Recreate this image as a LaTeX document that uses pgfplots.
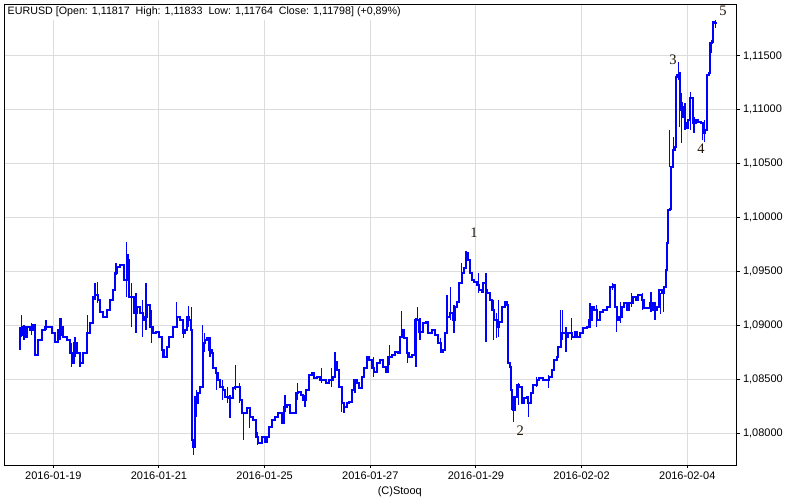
\documentclass[border=0pt]{standalone}
\usepackage{pgfplots}
\pgfplotsset{compat=1.18}
\usepackage{pgfplotstable}
\usepackage{fontspec}
\setmainfont{Liberation Sans}
\newfontfamily\numfont{Liberation Serif}

\definecolor{gridgray}{HTML}{DCDCDC}
\definecolor{barblue}{HTML}{0000FF}
\definecolor{wavelbl}{HTML}{1E1408}

% EURUSD hourly, x = trading days from 2016-01-19
\pgfplotstableread{
x y
-0.644 1.08910
-0.598 1.08984
-0.536 1.08891
-0.504 1.08984
-0.441 1.08956
-0.379 1.09003
-0.346 1.08724
-0.314 1.08724
-0.284 1.08863
-0.220 1.08956
-0.157 1.08984
-0.095 1.08984
-0.030 1.08928
0.032 1.08845
0.095 1.08956
0.159 1.08984
0.189 1.08891
0.254 1.08863
0.316 1.08743
0.348 1.08650
0.392 1.08835
0.443 1.08743
0.505 1.08650
0.568 1.08743
0.632 1.08928
0.695 1.09021
0.746 1.09262
0.789 1.09281
0.852 1.09235
0.884 1.09123
0.946 1.09077
1.011 1.09142
1.073 1.09235
1.124 1.09327
1.168 1.09485
1.211 1.09541
1.263 1.09560
1.338 1.09420
1.389 1.09652
1.420 1.09606
1.439 1.09262
1.484 1.09262
1.528 1.09114
1.579 1.09170
1.641 1.09114
1.692 1.09049
1.736 1.09077
1.779 1.09188
1.830 1.08984
1.882 1.08928
1.944 1.08938
2.007 1.08891
2.052 1.08770
2.095 1.08706
2.147 1.08798
2.196 1.08891
2.271 1.08984
2.336 1.09077
2.398 1.09049
2.449 1.08928
2.493 1.08956
2.536 1.09077
2.574 1.09049
2.601 1.08956
2.620 1.07935
2.650 1.07870
2.682 1.08334
2.714 1.08279
2.745 1.08371
2.777 1.08427
2.809 1.08427
2.828 1.08835
2.871 1.08863
2.915 1.08882
2.953 1.08770
2.998 1.08743
3.029 1.08603
3.080 1.08557
3.123 1.08492
3.155 1.08427
3.207 1.08399
3.250 1.08334
3.313 1.08325
3.396 1.08418
3.445 1.08427
3.502 1.08427
3.534 1.08306
3.566 1.08186
3.629 1.08186
3.672 1.08232
3.723 1.08149
3.786 1.08121
3.837 1.07963
3.880 1.07907
3.945 1.07963
4.007 1.07916
4.051 1.07963
4.089 1.08056
4.134 1.08121
4.197 1.08149
4.259 1.08186
4.323 1.08093
4.367 1.08241
4.418 1.08260
4.481 1.08186
4.556 1.08186
4.594 1.08371
4.638 1.08381
4.683 1.08353
4.732 1.08306
4.783 1.08399
4.846 1.08538
4.891 1.08557
4.935 1.08511
4.997 1.08520
5.048 1.08492
5.099 1.08492
5.162 1.08464
5.224 1.08492
5.289 1.08520
5.332 1.08659
5.376 1.08585
5.414 1.08427
5.459 1.08279
5.503 1.08241
5.554 1.08279
5.603 1.08288
5.648 1.08399
5.692 1.08492
5.743 1.08464
5.792 1.08418
5.838 1.08520
5.881 1.08603
5.932 1.08706
5.981 1.08678
6.027 1.08603
6.076 1.08566
6.133 1.08650
6.184 1.08678
6.235 1.08613
6.298 1.08566
6.341 1.08706
6.405 1.08724
6.468 1.08752
6.530 1.08743
6.563 1.08891
6.595 1.08956
6.638 1.08882
6.689 1.08743
6.739 1.08706
6.784 1.08724
6.847 1.09049
6.890 1.09049
6.928 1.08938
6.992 1.09021
7.055 1.09030
7.098 1.08928
7.163 1.08956
7.225 1.08910
7.288 1.08835
7.339 1.08752
7.382 1.08770
7.414 1.08928
7.458 1.09077
7.509 1.09114
7.560 1.09049
7.604 1.09170
7.647 1.09216
7.685 1.09392
7.731 1.09485
7.774 1.09532
7.812 1.09671
7.856 1.09606
7.888 1.09485
7.920 1.09420
7.963 1.09402
8.014 1.09374
8.064 1.09327
8.109 1.09309
8.139 1.09392
8.190 1.09327
8.215 1.09300
8.266 1.09235
8.298 1.09142
8.342 1.09049
8.393 1.08984
8.442 1.09030
8.488 1.09170
8.551 1.09216
8.594 1.09188
8.613 1.08650
8.645 1.08613
8.658 1.08399
8.683 1.08334
8.707 1.08214
8.739 1.08334
8.772 1.08446
8.821 1.08427
8.866 1.08279
8.910 1.08325
8.961 1.08334
8.991 1.08279
9.037 1.08371
9.086 1.08446
9.150 1.08492
9.199 1.08511
9.264 1.08492
9.326 1.08492
9.389 1.08520
9.434 1.08585
9.478 1.08678
9.528 1.08706
9.559 1.08798
9.605 1.08928
9.654 1.08928
9.705 1.08891
9.748 1.08928
9.813 1.08891
9.875 1.08938
9.919 1.08891
9.970 1.08928
10.032 1.08975
10.097 1.08984
10.146 1.09049
10.191 1.09170
10.235 1.09142
10.286 1.09049
10.348 1.09123
10.411 1.09142
10.475 1.09170
10.538 1.09355
10.589 1.09374
10.632 1.09170
10.664 1.09049
10.713 1.09077
10.759 1.09170
10.803 1.09207
10.854 1.09142
10.903 1.09207
10.967 1.09262
11.030 1.09235
11.073 1.09281
11.138 1.09235
11.181 1.09160
11.232 1.09160
11.295 1.09207
11.357 1.09142
11.421 1.09170
11.471 1.09327
11.516 1.09300
11.560 1.09355
11.598 1.09513
11.622 1.09764
11.641 1.10070
11.673 1.10079
11.687 1.10469
11.724 1.10488
11.736 1.10627
11.768 1.10655
11.787 1.11305
11.812 1.11323
11.838 1.11342
11.863 1.10998
11.882 1.11063
11.907 1.10933
11.925 1.11026
11.957 1.10878
11.990 1.10831
12.020 1.10906
12.052 1.11110
12.084 1.11110
12.114 1.10878
12.165 1.10906
12.209 1.10887
12.255 1.10878
12.293 1.10785
12.336 1.10813
12.368 1.10906
12.380 1.11323
12.418 1.11342
12.431 1.11620
12.463 1.11630
12.482 1.11815
12.512 1.11806
12.539 1.11798
}\closes

% high-low wicks
\pgfplotstableread{
x lo hi
-0.630 1.08770 1.08984
-0.598 1.08891 1.09095
-0.555 1.08863 1.09003
-0.409 1.08910 1.09021
-0.138 1.08956 1.09049
0.127 1.08863 1.09068
0.159 1.08900 1.09068
0.348 1.08613 1.08835
0.411 1.08706 1.08891
0.505 1.08613 1.08743
0.644 1.08928 1.09095
0.789 1.09235 1.09392
0.833 1.09207 1.09402
1.187 1.09467 1.09578
1.389 1.09262 1.09773
1.484 1.08984 1.09392
1.565 1.08928 1.09300
1.692 1.08891 1.09235
1.755 1.08956 1.09392
1.863 1.08835 1.09142
2.071 1.08696 1.08863
2.336 1.09077 1.09216
2.461 1.08882 1.09021
2.555 1.08984 1.09179
2.620 1.07935 1.09170
2.650 1.07796 1.07935
2.714 1.08149 1.08399
2.828 1.08817 1.09003
2.858 1.08752 1.08928
2.966 1.08706 1.08891
3.093 1.08399 1.08557
3.207 1.08306 1.08492
3.294 1.08279 1.08427
3.345 1.08139 1.08353
3.445 1.08399 1.08631
3.521 1.08279 1.08464
3.604 1.07935 1.08186
3.710 1.08046 1.08241
3.861 1.07889 1.08009
4.386 1.08195 1.08353
4.626 1.08306 1.08464
4.764 1.08241 1.08353
5.080 1.08464 1.08603
5.270 1.08427 1.08603
5.332 1.08631 1.08752
5.459 1.08195 1.08427
5.503 1.08186 1.08260
5.711 1.08371 1.08501
6.057 1.08520 1.08706
6.360 1.08631 1.08817
6.595 1.08910 1.09133
6.701 1.08650 1.08835
6.865 1.08613 1.09068
6.890 1.09049 1.09170
6.941 1.08863 1.09068
7.333 1.08743 1.08882
7.447 1.08956 1.09281
7.458 1.09077 1.09281
7.522 1.09049 1.09355
7.585 1.08928 1.09188
7.731 1.09392 1.09578
7.812 1.09606 1.09690
8.045 1.09300 1.09485
8.190 1.08845 1.09485
8.329 1.08863 1.09235
8.393 1.08882 1.09114
8.423 1.08891 1.09235
8.677 1.08214 1.08399
8.707 1.08102 1.08306
8.804 1.08260 1.08464
8.991 1.08149 1.08306
9.150 1.08427 1.08520
9.370 1.08418 1.08538
9.605 1.08928 1.09142
9.642 1.08863 1.09142
9.705 1.08752 1.08984
9.813 1.08863 1.09068
10.159 1.08975 1.09207
10.286 1.08984 1.09188
10.589 1.09327 1.09392
10.664 1.08938 1.09095
10.740 1.09021 1.09216
10.948 1.09170 1.09300
11.156 1.09142 1.09300
11.313 1.09123 1.09309
11.389 1.09049 1.09216
11.496 1.09105 1.09300
11.546 1.09123 1.09355
11.660 1.10469 1.10813
11.736 1.10469 1.10748
11.838 1.11277 1.11444
11.849 1.10841 1.11342
11.894 1.10692 1.11156
11.957 1.10813 1.11063
12.065 1.10813 1.11166
12.128 1.10785 1.10933
12.293 1.10720 1.10859
12.323 1.10702 1.10906
12.463 1.11528 1.11648
12.539 1.11764 1.11833
}\wicks

\begin{document}
\begin{tikzpicture}[x=1bp,y=1bp]
\useasboundingbox (-4.5bp,-35bp) rectangle (795.5bp,465bp);
\begin{axis}[
  at={(0,0)}, anchor=south west,
  scale only axis,
  width=732bp, height=460.5bp,
  xmin=-0.924, xmax=12.932,
  ymin=1.07703, ymax=1.11978,
  clip=false,
  axis line style={black, line width=1bp},
  grid=major,
  major grid style={gridgray, line width=1bp},
  tick align=outside,
  major tick length=3bp,
  tick style={black, line width=1bp},
  xtick pos=bottom,
  ytick pos=right,
  yticklabel pos=right,
  xtick={0,2,4,6,8,10,12},
  xticklabels={2016-01-19,2016-01-21,2016-01-25,2016-01-27,2016-01-29,2016-02-02,2016-02-04},
  ytick={1.08,1.085,1.09,1.095,1.1,1.105,1.11,1.115},
  yticklabel style={/pgf/number format/fixed, /pgf/number format/fixed zerofill,
    /pgf/number format/precision=5, /pgf/number format/use comma,
    /pgf/number format/assume math mode=true},
  ticklabel style={font=\fontsize{11bp}{13bp}\selectfont},
]
\addplot[const plot, color=barblue, line width=1.8bp] table[x=x, y=y] {\closes};
\addplot[draw=none, mark=none, forget plot,
  error bars/.cd, y dir=both, y explicit,
  error mark=none,
  error bar style={color=barblue, line width=1.3bp}]
  table[x=x, y expr={(\thisrow{lo}+\thisrow{hi})/2}, y error expr={(\thisrow{hi}-\thisrow{lo})/2}] {\wicks};

\node[anchor=north west, fill=white, inner xsep=3bp, inner ysep=2.5bp,
  font=\fontsize{10.7bp}{13bp}\selectfont]
  at (rel axis cs:0,1) {EURUSD [Open: 1,11817\ \ High: 1,11833\ \ Low: 1,11764\ \ Close: 1,11798] (+0,89\%)};

\begin{scope}[font=\numfont\fontsize{14.5bp}{16bp}\selectfont, text=wavelbl]
\node at (axis cs:7.963,1.09857) {1};
\node at (axis cs:8.840,1.08019) {2};
\node at (axis cs:11.730,1.11463) {3};
\node at (axis cs:12.260,1.10636) {4};
\node at (axis cs:12.677,1.11917) {5};
\end{scope}

\node[font=\fontsize{11bp}{13bp}\selectfont] at (rel axis cs:0.540,-0.0586) {(C)Stooq};
\end{axis}
\end{tikzpicture}
\end{document}
